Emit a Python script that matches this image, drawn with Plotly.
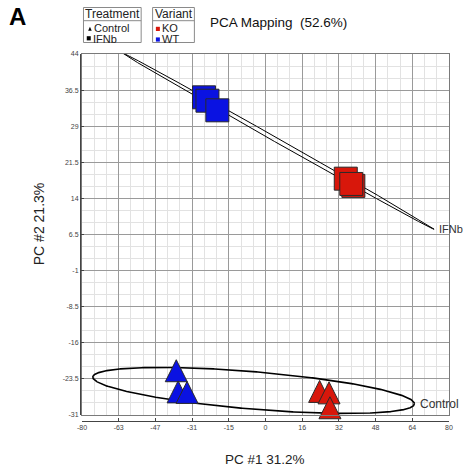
import numpy as np
import plotly.graph_objects as go

# ---------------- data ----------------
pc1_ko_control = [23.6, 27.7, 28.1]
pc2_ko_control = [-26.1, -26.4, -29.5]
pc1_wt_control = [-38.9, -38.1, -34.2]
pc2_wt_control = [-21.8, -26.2, -26.3]
pc1_ko_ifnb = [35.0, 38.3, 37.4]
pc2_ko_ifnb = [18.1, 16.6, 17.0]
pc1_wt_ifnb = [-26.8, -25.3, -21.0]
pc2_wt_ifnb = [35.0, 34.3, 32.3]

# group ellipses: centre, semi-major vector, semi-minor vector (data units)
ellipse_names = ["IFNb", "Control"]
ellipse_center_pc1 = [5.6, -5.2]
ellipse_center_pc2 = [25.9, -25.9]
ellipse_major_pc1 = [67.9, 70.1]
ellipse_major_pc2 = [-18.3, -2.8]
ellipse_minor_pc1 = [-0.47, -0.67]
ellipse_minor_pc2 = [-0.40, -3.88]

x_tick_values = [-80, -64, -48, -32, -16, 0, 16, 32, 48, 64, 80]
x_tick_labels = ["-80", "-63", "-47", "-31", "-15", "0", "16", "32", "48", "64", "80"]
y_tick_values = [-31, -23.5, -16, -8.5, -1, 6.5, 14, 21.5, 29, 36.5, 44]
y_tick_labels = ["-31", "-23.5", "-16", "-8.5", "-1", "6.5", "14", "21.5", "29", "36.5", "44"]

title_text = "PCA Mapping\u00a0\u00a0(52.6%)"
x_title = "PC #1 31.2%"
y_title = "PC #2 21.3%"
panel_label = "A"
legend1_title = "Treatment"
legend1_items = ["Control", "IFNb"]
legend2_title = "Variant"
legend2_items = ["KO", "WT"]

# ---------------- style ----------------
FONT = "Liberation Sans, Arial, sans-serif"
RED = "#d8170b"
BLUE = "#0a12e2"
MAJOR = "#9a9a9a"
MINOR = "#e2e2e2"
FRAME = "#7a7a7a"
AXC = "#444444"
ELL_W = {"IFNb": 1.0, "Control": 1.6}
ELL_SHIFT = {"IFNb": 3, "Control": 4}
ELL_FS = {"IFNb": 11, "Control": 12}

# paper box in pixels
PL, PR, PT, PB = 80, 451, 54, 421


def fx(px):
    return (px - PL) / (PR - PL)


def fy(py):
    return (PB - py) / (PB - PT)


fig = go.Figure()

# ellipses
t = np.linspace(0, 2 * np.pi, 721)
for i, name in enumerate(ellipse_names):
    ex = ellipse_center_pc1[i] + ellipse_major_pc1[i] * np.cos(t) + ellipse_minor_pc1[i] * np.sin(t)
    ey = ellipse_center_pc2[i] + ellipse_major_pc2[i] * np.cos(t) + ellipse_minor_pc2[i] * np.sin(t)
    fig.add_trace(go.Scatter(x=ex, y=ey, mode="lines",
                             line=dict(color="black", width=ELL_W[name]),
                             hoverinfo="skip", showlegend=False))

tri = dict(symbol="arrow-down", angle=180, standoff=11, size=22,
           line=dict(color="#2a2a2a", width=1))
sq = dict(symbol="square", size=23, line=dict(color="#2a2a2a", width=1))

groups = [
    ("WT Control", pc1_wt_control, pc2_wt_control, BLUE, tri),
    ("KO Control", pc1_ko_control, pc2_ko_control, RED, tri),
    ("WT IFNb", pc1_wt_ifnb, pc2_wt_ifnb, BLUE, sq),
    ("KO IFNb", pc1_ko_ifnb, pc2_ko_ifnb, RED, sq),
]
for name, xs, ys, col, mk in groups:
    m = dict(mk)
    m["color"] = col
    fig.add_trace(go.Scatter(x=xs, y=ys, mode="markers", name=name, marker=m,
                             cliponaxis=False, showlegend=False))

# dummy trace to carry the offset axes
fig.add_trace(go.Scatter(x=[], y=[], xaxis="x2", yaxis="y2", showlegend=False))

annotations = []
for i, name in enumerate(ellipse_names):
    annotations.append(dict(
        x=ellipse_center_pc1[i] + ellipse_major_pc1[i],
        y=ellipse_center_pc2[i] + ellipse_major_pc2[i],
        xref="x", yref="y", text=name, showarrow=False,
        xanchor="left", yanchor="middle", xshift=ELL_SHIFT[name],
        font=dict(size=ELL_FS[name], color="#333333", family=FONT)))

def pann(px, py, text, size, xanchor="left", color="#111111", bold=False, angle=0):
    return dict(x=fx(px), y=fy(py), xref="paper", yref="paper", text=("<b>%s</b>" % text) if bold else text,
                showarrow=False, xanchor=xanchor, yanchor="middle", textangle=angle,
                font=dict(size=size, color=color, family=FONT))

annotations += [
    pann(7, 16, panel_label, 24, bold=True, color="#000000"),
    pann(209, 23, title_text, 13.5, color="#111111"),
    pann(266.5, 459, x_title, 13.5, xanchor="center", color="#222222"),
    pann(39, 224, y_title, 14, xanchor="center", color="#222222", angle=-90),
    pann(113, 14.3, legend1_title, 12, xanchor="center", color="#222222"),
    pann(92.5, 28.3, legend1_items[0], 11, color="#222222"),
    pann(91, 38.8, legend1_items[1], 11, color="#222222"),
    pann(174.5, 14.3, legend2_title, 12, xanchor="center", color="#222222"),
    pann(160.5, 28.3, legend2_items[0], 11, color="#222222"),
    pann(160.5, 38.8, legend2_items[1], 11, color="#222222"),
]

BOXC = "#8a8a8a"
def prect(x0, y0, x1, y1, line=None, fill=None):
    return dict(type="rect", xref="paper", yref="paper", x0=fx(x0), x1=fx(x1), y0=fy(y0), y1=fy(y1),
                line=dict(color=line if line else "rgba(0,0,0,0)", width=1 if line else 0),
                fillcolor=fill if fill else "rgba(0,0,0,0)", layer="above")

def pline(x0, y0, x1, y1, color=BOXC):
    return dict(type="line", xref="paper", yref="paper", x0=fx(x0), x1=fx(x1), y0=fy(y0), y1=fy(y1),
                line=dict(color=color, width=1), layer="above")

shapes = [
    prect(83.5, 7.5, 141.5, 42.5, line=BOXC, fill="white"),
    pline(83.5, 20.7, 141.5, 20.7),
    prect(153, 7.5, 195, 42.5, line=BOXC, fill="white"),
    pline(153, 20.7, 195, 20.7),
    # legend glyphs
    dict(type="path", xref="paper", yref="paper",
         path="M %f,%f L %f,%f L %f,%f Z" % (fx(88.2), fy(30.8), fx(91.8), fy(30.8), fx(90), fy(26.8)),
         fillcolor="black", line=dict(width=0), layer="above"),
    prect(86.8, 36.2, 90.8, 40.4, fill="black"),
    prect(156.3, 26.8, 160.3, 31.0, fill=RED),
    prect(156.3, 37.4, 160.3, 41.6, fill=BLUE),
]

fig.update_layout(
    width=465, height=472,
    margin=dict(l=PL, r=465 - PR, t=PT, b=472 - PB, pad=0),
    paper_bgcolor="white", plot_bgcolor="white", showlegend=False,
    font=dict(family=FONT, color="#222222"),
    xaxis=dict(domain=[fx(82), 1], range=[-80, 80], tick0=-80, dtick=16,
               showticklabels=False, ticks="", showgrid=True, gridcolor=MAJOR, gridwidth=1,
               minor=dict(tick0=-80, dtick=16 / 3, showgrid=True, gridcolor=MINOR, gridwidth=1, ticks=""),
               zeroline=False, showline=True, mirror=True, linecolor=FRAME, linewidth=1),
    yaxis=dict(domain=[fy(415), 1], range=[-31, 44], tick0=-31, dtick=7.5,
               showticklabels=False, ticks="", showgrid=True, gridcolor=MAJOR, gridwidth=1,
               minor=dict(tick0=-31, dtick=2.5, showgrid=True, gridcolor=MINOR, gridwidth=1, ticks=""),
               zeroline=False, showline=True, mirror=True, linecolor=FRAME, linewidth=1),
    xaxis2=dict(overlaying="x", anchor="free", position=0, side="bottom", range=[-80, 80],
                tickmode="array", tickvals=x_tick_values, ticktext=x_tick_labels,
                ticks="inside", ticklen=3, tickwidth=1, tickcolor=AXC,
                showline=True, linecolor=AXC, linewidth=1, showgrid=False, zeroline=False,
                tickfont=dict(size=7, color="#444444", family=FONT)),
    yaxis2=dict(overlaying="y", anchor="free", position=0, side="left", range=[-31, 44],
                tickmode="array", tickvals=y_tick_values, ticktext=y_tick_labels,
                ticks="inside", ticklen=3, tickwidth=1, tickcolor=AXC,
                showline=True, linecolor=AXC, linewidth=1, showgrid=False, zeroline=False,
                tickfont=dict(size=7, color="#444444", family=FONT)),
    annotations=annotations,
    shapes=shapes,
)

fig.write_html("out.html")
